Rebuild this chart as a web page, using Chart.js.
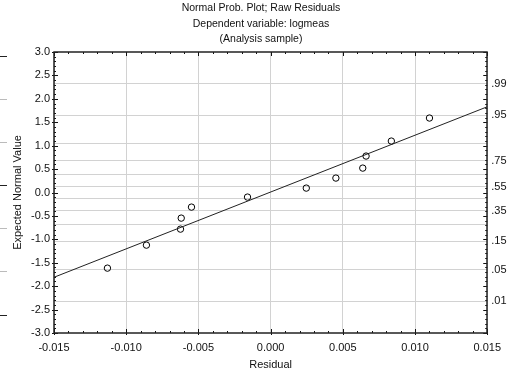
<!DOCTYPE html>
<html>
<head>
<meta charset="utf-8">
<script src="https://cdn.jsdelivr.net/npm/chart.js@4"></script>
<style>
  html, body { margin: 0; padding: 0; background: #fff; }
  canvas { display: block; }
</style>
</head>
<body>
<canvas id="npp" width="509" height="373"></canvas>
<script>
// raw residuals and their expected normal values
const residuals = [-0.0113, -0.0086, -0.00624, -0.00619, -0.00548, -0.0016, 0.00247, 0.00452, 0.00638, 0.00661, 0.00836, 0.0110];
const expectedNormal = [-1.615, -1.124, -0.782, -0.547, -0.312, -0.098, 0.094, 0.308, 0.521, 0.778, 1.098, 1.59];

// fitted reference line, end points
const fitX = [-0.015, 0.015];
const fitY = [-1.81, 1.83];

// probability grid on the right axis (z position + label)
const probZ = [2.326, 1.645, 1.036, 0.674, 0.385, 0.126, -0.126, -0.385, -0.674, -1.036, -1.645, -2.326];
const probLabels = ['.99', '.95', '', '.75', '', '.55', '', '.35', '', '.15', '.05', '.01'];

const titleLines = ['Normal Prob. Plot; Raw Residuals', 'Dependent variable: logmeas', '(Analysis sample)'];

const FONT = 'Liberation Sans, Arial, sans-serif';
const GRID = '#d2d2d2';

// three-line heading, drawn in the reserved top band
const heading = {
  id: 'heading',
  afterDraw(chart) {
    const ctx = chart.ctx;
    ctx.save();
    ctx.fillStyle = '#111';
    ctx.font = '10.5px ' + FONT;
    ctx.textAlign = 'center';
    ctx.textBaseline = 'middle';
    titleLines.forEach((t, i) => ctx.fillText(t, 261, 8.5 + i * 15.3));
    ctx.restore();
  }
};

// frame with major/minor tick marks on all four sides
const frameTicks = {
  id: 'frameTicks',
  afterDraw(chart) {
    const { ctx, chartArea: a, scales: { x, y } } = chart;
    const seg = (x1, y1, x2, y2) => { ctx.beginPath(); ctx.moveTo(x1, y1); ctx.lineTo(x2, y2); ctx.stroke(); };
    ctx.save();
    ctx.strokeStyle = '#111';
    ctx.lineWidth = 1;
    for (let i = 0; i <= 30; i++) {
      const px = Math.round(x.getPixelForValue(-0.015 + i * 0.001)) + 0.5;
      const len = i % 5 === 0 ? 4 : 2;
      seg(px, a.top, px, a.top + len);
      seg(px, a.bottom, px, a.bottom - len);
      if (i % 5 === 0) seg(px, a.bottom, px, a.bottom + 2);
    }
    for (let i = 0; i <= 60; i++) {
      const py = Math.round(y.getPixelForValue(-3 + i * 0.1)) + 0.5;
      const len = i % 5 === 0 ? 4 : 2;
      seg(a.left, py, a.left + len, py);
      seg(a.right, py, a.right - len, py);
      if (i % 5 === 0) seg(a.left, py, a.left - 2, py);
    }
    ctx.lineWidth = 1.5;
    ctx.strokeStyle = '#222';
    ctx.strokeRect(Math.round(a.left), Math.round(a.top), Math.round(a.right - a.left), Math.round(a.bottom - a.top));

    // bits of the neighbouring panel at the left edge
    [[56, '#222'], [99, '#bbb'], [142, '#bbb'], [185, '#222'], [228, '#bbb'], [271, '#bbb'], [315, '#222']].forEach(([py, c]) => {
      ctx.strokeStyle = c;
      ctx.lineWidth = 1;
      seg(0, py + 0.5, 7, py + 0.5);
    });
    ctx.restore();
  }
};

const tickFont = { family: FONT, size: 11 };

new Chart(document.getElementById('npp'), {
  type: 'scatter',
  data: {
    datasets: [
      {
        type: 'line',
        data: fitX.map((v, i) => ({ x: v, y: fitY[i] })),
        borderColor: '#222',
        borderWidth: 1,
        pointRadius: 0,
        fill: false
      },
      {
        data: residuals.map((v, i) => ({ x: v, y: expectedNormal[i] })),
        pointStyle: 'circle',
        pointRadius: 3.2,
        borderColor: '#000',
        borderWidth: 1,
        backgroundColor: 'rgba(255,255,255,0)'
      }
    ]
  },
  options: {
    responsive: false,
    animation: false,
    layout: { padding: { top: 52, left: 0, right: 0, bottom: 0 } },
    plugins: {
      legend: { display: false },
      tooltip: { enabled: false },
      title: { display: false }
    },
    scales: {
      x: {
        type: 'linear',
        position: 'bottom',
        min: -0.015,
        max: 0.015,
        ticks: {
          stepSize: 0.005,
          color: '#111',
          font: tickFont,
          padding: 8,
          callback: v => (Math.abs(v) < 1e-12 ? 0 : v).toFixed(3)
        },
        grid: { color: GRID, drawTicks: false },
        border: { display: false },
        title: { display: true, text: 'Residual', color: '#111', font: tickFont, padding: { top: 0, bottom: 1 } },
        afterFit: s => { s.height = 40; }
      },
      y: {
        type: 'linear',
        position: 'left',
        min: -3,
        max: 3,
        ticks: {
          stepSize: 0.5,
          color: '#111',
          font: tickFont,
          padding: 4,
          callback: v => (Math.abs(v) < 1e-12 ? 0 : v).toFixed(1)
        },
        grid: { display: false, drawTicks: false },
        border: { display: false },
        title: { display: true, text: 'Expected Normal Value', color: '#111', font: tickFont, padding: { top: 11, bottom: 0 } },
        afterFit: s => { s.width = 54; }
      },
      y2: {
        type: 'linear',
        position: 'right',
        min: -3,
        max: 3,
        afterBuildTicks: s => { s.ticks = probZ.map(v => ({ value: v })); },
        ticks: {
          autoSkip: false,
          color: '#111',
          font: tickFont,
          padding: 4,
          callback: v => probLabels[probZ.indexOf(v)]
        },
        grid: { color: GRID, drawTicks: false },
        border: { display: false },
        afterFit: s => { s.width = 20; }
      }
    }
  },
  plugins: [frameTicks, heading]
});
</script>
</body>
</html>
